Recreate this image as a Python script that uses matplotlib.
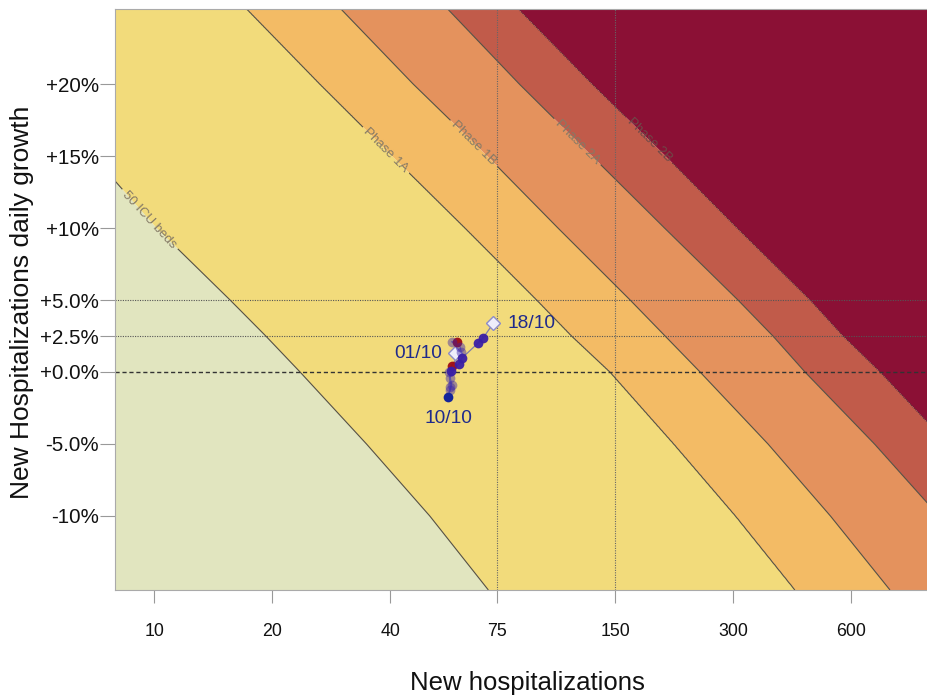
import numpy as np
import matplotlib
matplotlib.use("Agg")
import matplotlib.pyplot as plt
from matplotlib.ticker import FixedLocator, NullLocator, FixedFormatter

plt.rcParams['font.family'] = ['Liberation Sans', 'DejaVu Sans']

# ---------------- data ----------------
# growth levels (% daily growth) at which the zone boundaries were read
growth_levels = [-15.14, -10, -5, 0, 2.5, 5, 10, 15, 20, 25.21]
# new-hospitalization value of each boundary at those growth levels
icu50_x   = [71.1, 50.4, 34.75, 23.52, 19.23, 15.59, 10.12, 6.97, 4.57, 2.94]
phase1a_x = [430.8, 303.8, 211.4, 145.3, 116.0, 94.5, 62.0, 40.4, 26.42, 17.20]
phase1b_x = [752.6, 530.4, 367.6, 246.6, 200.8, 163.5, 107.0, 70.6, 45.7, 29.9]
phase2a_x = [1420, 1004, 687.4, 456.9, 378.5, 308.2, 200.2, 130.7, 85.3, 56.0]
phase2b_x = [2141, 1514, 1058, 709.9, 571.1, 470.4, 306.3, 201.3, 130.7, 84.8]
boundary_names = ["50 ICU beds", "Phase 1A", "Phase 1B", "Phase 2A", "Phase 2B"]
zone_colors = ["#E1E5BF", "#F2DB7B", "#F3BB65", "#E4925D", "#C15B4A", "#8B1035"]

dates = ["01/10", "02/10", "03/10", "04/10", "05/10", "06/10", "07/10", "08/10", "09/10",
         "10/10", "11/10", "12/10", "13/10", "14/10", "15/10", "16/10", "17/10", "18/10"]
new_hosp = [58.5, 59.0, 57.3, 60.2, 60.6, 57.3, 56.5, 57.3, 56.8,
            56.2, 56.9, 56.6, 57.1, 59.8, 60.8, 66.8, 69.0, 73.2]
growth = [1.30, 2.10, 2.10, 1.76, 1.39, 0.44, 0.00, -0.90, -1.25,
          -1.72, -1.04, -0.42, 0.07, 0.56, 0.95, 1.99, 2.38, 3.38]
point_kind = ["diamond", "red", "faint", "faint", "faint", "red", "faint", "faint", "faint",
              "dark", "faint", "faint", "blue", "blue", "blue", "blue", "blue", "diamond"]
labelled_dates = ["01/10", "10/10", "18/10"]

x_ticks = [10, 20, 40, 75, 150, 300, 600]
y_ticks = [-10, -5, 0, 2.5, 5, 10, 15, 20]
y_ticklabels = ["-10%", "-5.0%", "+0.0%", "+2.5%", "+5.0%", "+10%", "+15%", "+20%"]
xlim = (7.93, 941)
ylim = (-15.14, 25.21)

# ---------------- figure ----------------
W, H = 928, 696
fig = plt.figure(figsize=(W / 100, H / 100), dpi=100)
ax = fig.add_axes([115 / W, 1 - 590 / H, (W - 115) / W, (590 - 9) / H])
ax.set_xscale('log')
ax.set_xlim(*xlim)
ax.set_ylim(*ylim)

# zone field built from the read boundaries
bounds = np.log10(np.array([icu50_x, phase1a_x, phase1b_x, phase2a_x, phase2b_x]))
gg = np.linspace(ylim[0], ylim[1], 600)
lx = np.linspace(np.log10(xlim[0]), np.log10(xlim[1]), 1200)
Lb = np.array([np.interp(gg, growth_levels, row) for row in bounds])
Z = np.empty((len(gg), len(lx)))
for i in range(len(gg)):
    b = Lb[:, i]
    xp = np.concatenate([[b[0] - (b[1] - b[0])], b, [b[4] + (b[4] - b[3])]])
    Z[i] = np.interp(lx, xp, [-1, 0, 1, 2, 3, 4, 5])
X = 10 ** lx
ax.contourf(X, gg, Z, levels=[-2, 0, 1, 2, 3, 4, 6], colors=zone_colors, antialiased=True)
fmt = {k: boundary_names[k] for k in range(5)}
cs = ax.contour(X, gg, Z, levels=[0, 1, 2, 3], colors='#555044', linewidths=0.8)
cs2 = ax.contour(X, gg, Z, levels=[4], colors='#4a2a2a', linewidths=0.7, linestyles=[(0, (1, 1))])
ax.clabel(cs, fmt=fmt, manual=[(9.69, 10.56), (38.99, 15.42), (65.4, 15.9), (119.7, 15.97)],
          inline=True, inline_spacing=4, fontsize=9.5, colors='#857a66')
ax.clabel(cs2, fmt=fmt, manual=[(182.7, 16.1)],
          inline=True, inline_spacing=4, fontsize=9.5, colors='#6e4a48')

# reference lines
ax.axhline(5, color='#555555', lw=0.8, ls=(0, (1, 1.2)))
ax.axhline(2.5, color='#555555', lw=0.8, ls=(0, (1, 1.2)))
ax.axhline(0, color='#333333', lw=1.0, ls=(0, (3, 2)))
ax.axvline(75, color='#666666', lw=0.8, ls=(0, (1, 1.2)))
ax.axvline(150, color='#666666', lw=0.8, ls=(0, (1, 1.2)))

# trajectory
ax.plot(new_hosp, growth, color='#7f7fa8', lw=0.9, zorder=4)
style = {
    "faint": dict(marker='o', color='#3a22a8', alpha=0.45, ms=7),
    "blue": dict(marker='o', color='#3a1fa6', alpha=0.95, ms=7),
    "dark": dict(marker='o', color='#14259a', alpha=1.0, ms=7),
    "red": dict(marker='o', color='#9e0a14', alpha=0.95, ms=7),
    "diamond": dict(marker='D', color='#eeeefa', alpha=1.0, ms=7, mec='#8c8cc8', mew=1.0),
}
for xv, yv, k in zip(new_hosp, growth, point_kind):
    st = dict(style[k])
    ax.plot([xv], [yv], ls='none', zorder=5, mec=st.pop('mec', 'none'), mew=st.pop('mew', 0), **st)

offsets = {"01/10": (-9.5, 0, 'right', 'center'),
           "10/10": (0, -15.5, 'center', 'center'),
           "18/10": (10.5, 0, 'left', 'center')}
for d in labelled_dates:
    i = dates.index(d)
    dx, dy, ha, va = offsets[d]
    ax.annotate(d, (new_hosp[i], growth[i]), xytext=(dx, dy), textcoords='offset points',
                ha=ha, va=va, fontsize=13.8, color='#1f2a8c', zorder=6)

# axes styling
ax.xaxis.set_major_locator(FixedLocator(x_ticks))
ax.xaxis.set_major_formatter(FixedFormatter([str(v) for v in x_ticks]))
ax.xaxis.set_minor_locator(NullLocator())
ax.yaxis.set_major_locator(FixedLocator(y_ticks))
ax.yaxis.set_major_formatter(FixedFormatter(y_ticklabels))
ax.yaxis.set_minor_locator(NullLocator())
ax.tick_params(axis='x', length=9, width=0.8, color='#999999', pad=15, labelsize=12.8, labelcolor='#111111')
ax.tick_params(axis='y', length=11, width=0.8, color='#999999', pad=0.5, labelsize=14.8, labelcolor='#111111')
for s in ['left', 'bottom', 'top']:
    ax.spines[s].set_color('#aaaaaa')
    ax.spines[s].set_linewidth(0.8)
ax.spines['right'].set_visible(False)

fig.text(527 / W, 1 - 683 / H, "New hospitalizations", ha='center', va='center', fontsize=18.5, color='#111111')
fig.text(22 / W, 1 - 302 / H, "New Hospitalizations daily growth", ha='center', va='center',
         rotation=90, fontsize=19, color='#111111')

fig.savefig("out.png", dpi=100)
